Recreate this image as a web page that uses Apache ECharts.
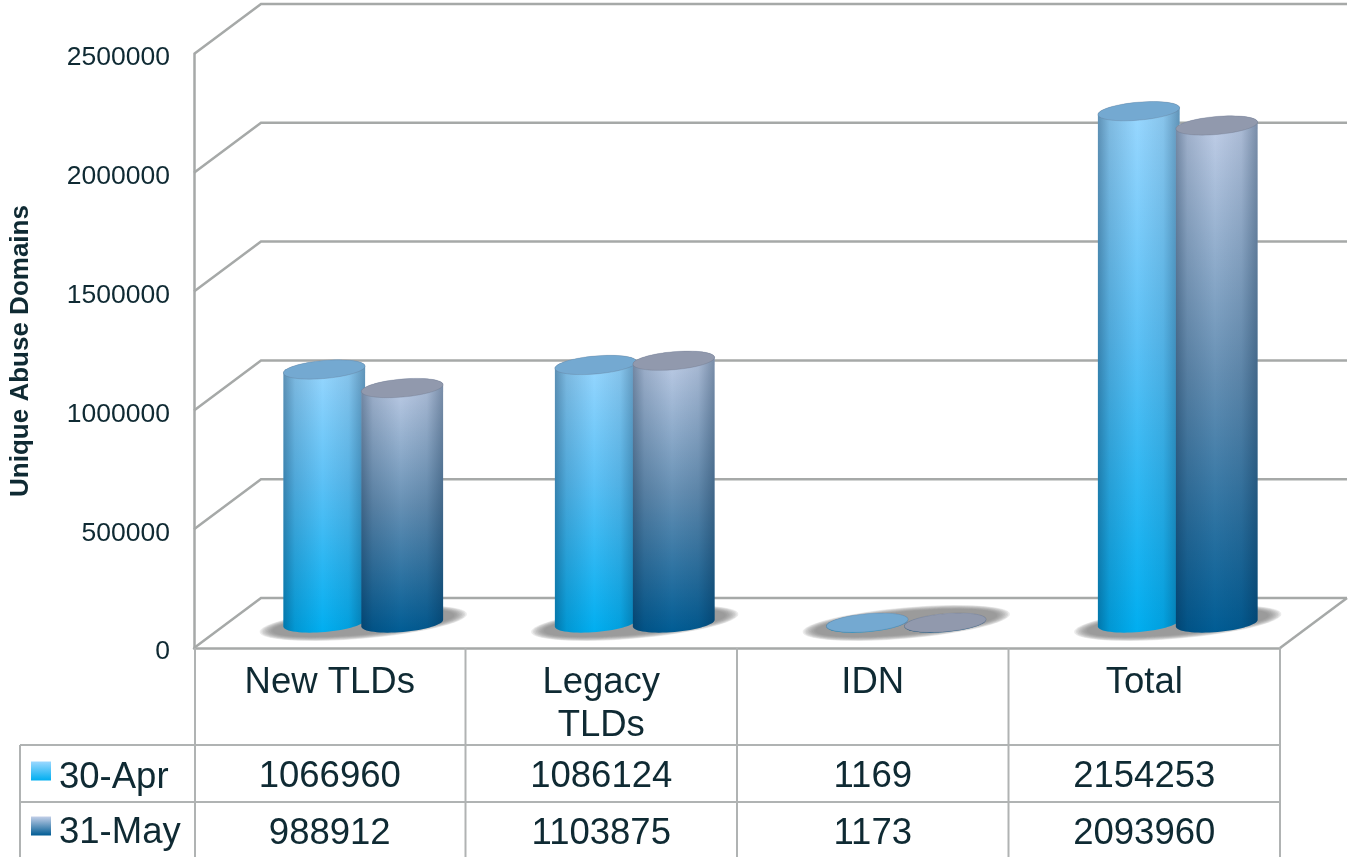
<!DOCTYPE html>
<html>
<head>
<meta charset="utf-8">
<style>html,body{margin:0;padding:0;background:#fff}#c{width:1349px;height:857px}</style>
<script src="https://cdn.jsdelivr.net/npm/echarts@6/dist/echarts.min.js"></script>
</head>
<body>
<div id="c"></div>
<script>
const categories = ['New TLDs', 'Legacy TLDs', 'IDN', 'Total'];
const seriesNames = ['30-Apr', '31-May'];
const apr = [1066960, 1086124, 1169, 2154253];
const may = [988912, 1103875, 1173, 2093960];
const yTicks = [0, 500000, 1000000, 1500000, 2000000, 2500000];

const DX = 67, DY = 50;
const LINE = '#a6a9a8', TEXT = '#0f2a33';
const ROT = 5 * Math.PI / 180;
const vgrad = (stops) => ({type:'linear',x:0,y:0,x2:0,y2:1,colorStops:stops.map((c,i)=>({offset:c[0],color:c[1]}))});
const bodyA = vgrad([[0,'#9bd8ff'],[0.45,'#5cc1f6'],[1,'#00aef0']]);
const bodyB = vgrad([[0,'#c2cfe8'],[0.5,'#6690b4'],[1,'#005c94']]);
const shade = {type:'linear',x:0,y:0,x2:1,y2:0,colorStops:[
  {offset:0,color:'rgba(0,30,60,0.38)'},{offset:0.14,color:'rgba(0,30,60,0.16)'},
  {offset:0.48,color:'rgba(0,30,60,0)'},{offset:0.8,color:'rgba(0,30,60,0.1)'},
  {offset:1,color:'rgba(0,30,60,0.36)'}]};

function arc(cx, cy, rx, ry, a0, a1, n) {
  const pts = [];
  for (let k = 0; k <= n; k++) {
    const t = a0 + (a1 - a0) * k / n;
    const x = rx * Math.cos(t), y = ry * Math.sin(t);
    pts.push([cx + x * Math.cos(ROT) + y * Math.sin(ROT), cy - x * Math.sin(ROT) + y * Math.cos(ROT)]);
  }
  return pts;
}

function cylinder(sign, body, cap) {
  return function (params, api) {
    const i = api.value(0), v = api.value(1);
    const base = api.coord([i, 0]), top = api.coord([i, v]);
    const cx = base[0] + DX / 2 + sign * 39;
    const by = base[1] - DY / 2, ty = top[1] - DY / 2;
    const rx = 41, ry = 9;
    const pts = arc(cx, by, rx, ry, Math.PI, 0, 32).concat(arc(cx, ty, rx, ry, 0, -Math.PI, 32));
    const topPts = arc(cx, ty, rx, ry, 0, 2 * Math.PI, 64);
    return {type:'group', children:[
      {type:'polygon', shape:{points:pts}, style:{fill:body}},
      {type:'polygon', shape:{points:pts}, style:{fill:shade}},
      {type:'polygon', shape:{points:topPts}, style:{fill:cap, stroke:'rgba(90,100,120,0.35)', lineWidth:0.7}}
    ]};
  };
}

const option = {
  animation:false,
  backgroundColor:'#fff',
  textStyle:{fontFamily:'"Liberation Sans", Arial, sans-serif'},
  grid:{left:194, right:69, top:54, bottom:209, containLabel:false, outerBoundsMode:'none'},
  legend:{
    show:true, orient:'vertical', left:31, top:759, padding:0, itemGap:18, itemWidth:20, itemHeight:19,
    selectedMode:false,
    formatter:(n)=>'{t|' + n + '}',
    data:[
      {name:seriesNames[0], icon:'rect', itemStyle:{color:vgrad([[0,'#9bd8ff'],[1,'#00aef0']])}},
      {name:seriesNames[1], icon:'rect', itemStyle:{color:vgrad([[0,'#c2cfe8'],[1,'#005c94']])}}
    ],
    textStyle:{rich:{t:{fontSize:36.5, color:TEXT, lineHeight:50, verticalAlign:'bottom', padding:[0,0,0,3]}}}
  },
  xAxis:{
    type:'category', data:categories,
    axisLine:{show:true, lineStyle:{color:LINE, width:2.5}},
    axisTick:{show:false},
    axisLabel:{fontSize:36.5, color:TEXT, margin:13, lineHeight:43, interval:0,
      formatter:(v)=>v.length > 8 ? v.replace(' ', '\n') : v}
  },
  yAxis:{
    type:'value', min:0, max:2500000, interval:500000,
    name:'Unique Abuse Domains', nameLocation:'middle', nameGap:160,
    nameTextStyle:{fontSize:26, fontWeight:'bold', color:TEXT},
    axisLine:{show:true, lineStyle:{color:LINE, width:2.5}},
    axisTick:{show:false},
    splitLine:{show:false},
    axisLabel:{fontSize:26.5, color:TEXT, margin:24, verticalAlign:'top', lineHeight:8, formatter:(v)=>String(v)}
  },
  series:[
    {
      name:'frame', type:'custom', silent:true, z:1, coordinateSystem:'cartesian2d',
      data:yTicks.map(t=>[0,t]), encode:{x:0,y:1},
      renderItem(params, api){
        const p = api.coord([0, api.value(1)]);
        const w = api.size([1,0])[0] * categories.length;
        const x0 = p[0] - api.size([1,0])[0] / 2;
        const children = [{type:'polyline', shape:{points:[[x0,p[1]],[x0+DX,p[1]-DY],[x0+w+DX,p[1]-DY]]},
          style:{stroke:LINE, lineWidth:2.5, fill:'none'}}];
        if (api.value(1) === 0) children.push({type:'line', shape:{x1:x0+w,y1:p[1],x2:x0+w+DX,y2:p[1]-DY},
          style:{stroke:LINE, lineWidth:2.5}});
        return {type:'group', children};
      }
    },
    {
      name:'shadow', type:'custom', silent:true, z:2,
      data:categories.map((c,i)=>[i,0]), encode:{x:0,y:1},
      renderItem(params, api){
        const p = api.coord([api.value(0), 0]);
        const children = [];
        for (let k = 0; k < 9; k++) {
          children.push({type:'polygon',
            shape:{points:arc(p[0]+DX/2, p[1]-DY/2, 104 - k * 1.6, 15.5 - k * 0.5, 0, 2*Math.PI, 64)},
            style:{fill:'rgba(130,130,130,0.16)'}});
        }
        return {type:'group', children};
      }
    },
    {
      name:seriesNames[0], type:'custom', z:3, data:apr.map((v,i)=>[i,v]), encode:{x:0,y:1},
      renderItem:cylinder(-1, bodyA, '#74a9d1')
    },
    {
      name:seriesNames[1], type:'custom', z:4, data:may.map((v,i)=>[i,v]), encode:{x:0,y:1},
      renderItem:cylinder(1, bodyB, '#9199ad')
    },
    {
      name:'table', type:'custom', silent:true, z:5,
      data:categories.map((c,i)=>[i,0]), encode:{x:0,y:1},
      renderItem(params, api){
        const i = api.value(0);
        const p = api.coord([i,0]);
        const w = api.size([1,0])[0];
        const rows = [[777, apr[i]], [834, may[i]]];
        const tableTop = 648, r1 = 745, r2 = 802, bottom = 857, leftEdge = 20;
        const st = {stroke:'#b0b3b3', lineWidth:2};
        const children = rows.map(r=>({type:'text', x:p[0], y:r[0],
          style:{text:String(r[1]), fill:TEXT, fontSize:36.5, fontFamily:'"Liberation Sans", Arial, sans-serif', align:'center', verticalAlign:'middle'}}));
        children.push({type:'line', shape:{x1:p[0]+w/2,y1:tableTop,x2:p[0]+w/2,y2:bottom}, style:st});
        if (i === 0) {
          children.push({type:'line', shape:{x1:p[0]-w/2+1,y1:tableTop,x2:p[0]-w/2+1,y2:bottom}, style:st});
          children.push({type:'line', shape:{x1:leftEdge,y1:r1,x2:p[0]-w/2,y2:r1}, style:st});
          children.push({type:'line', shape:{x1:leftEdge,y1:r2,x2:p[0]-w/2,y2:r2}, style:st});
          children.push({type:'line', shape:{x1:leftEdge,y1:r1,x2:leftEdge,y2:bottom}, style:st});
        }
        children.push({type:'line', shape:{x1:p[0]-w/2,y1:r1,x2:p[0]+w/2,y2:r1}, style:st});
        children.push({type:'line', shape:{x1:p[0]-w/2,y1:r2,x2:p[0]+w/2,y2:r2}, style:st});
        return {type:'group', children};
      }
    }
  ]
};
echarts.init(document.getElementById('c'), null, {renderer:'canvas'}).setOption(option);
</script>
</body>
</html>
